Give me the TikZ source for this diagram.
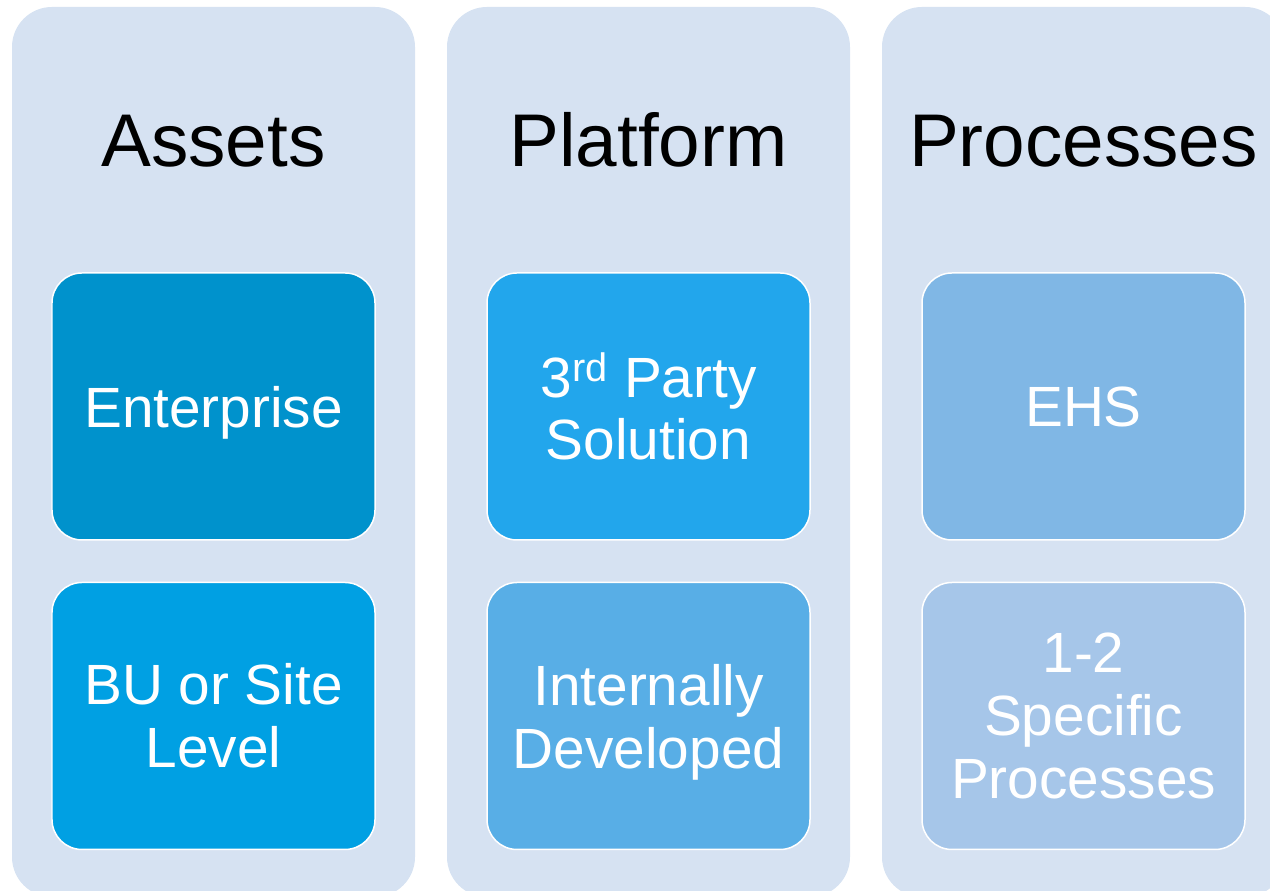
\documentclass[tikz,border=0pt]{standalone}
\usepackage{fontspec}
\setmainfont{Liberation Sans}
\usepackage{tkz-euclide}
\definecolor{colbg}{RGB}{214,226,242}
\definecolor{entc}{RGB}{0,146,204}
\definecolor{buc}{RGB}{0,160,227}
\definecolor{thirdc}{RGB}{34,166,236}
\definecolor{intc}{RGB}{88,174,230}
\definecolor{ehsc}{RGB}{128,183,229}
\definecolor{specc}{RGB}{166,198,233}

\begin{document}
\begin{tikzpicture}[
  column/.style={fill=colbg,rounded corners=0.8cm,minimum width=8.06cm,minimum height=17.8cm,inner sep=0pt},
  cell/.style={draw=white,line width=0.85pt,rounded corners=0.6cm,minimum width=6.46cm,minimum height=5.34cm,
    inner sep=0pt,align=center,text=white,font=\fontsize{32.3}{35.7}\selectfont},
  head/.style={anchor=base,font=\fontsize{42.5}{50}\selectfont},
  celltext/.style={text=white,align=center,font=\fontsize{32.3}{35.7}\selectfont}]
\useasboundingbox (0,0) rectangle (25.4,17.82);

\tkzDefPoints{4.27/8.78/cA,12.97/8.78/cP,21.67/8.78/cQ}
\tkzDefPoints{4.27/14.48/hA,12.97/14.48/hP,21.67/14.48/hQ}
\tkzDefPoints{4.27/9.69/A1,12.97/9.69/P1,21.67/9.69/Q1}
\tkzDefPoints{4.27/3.50/A2,12.97/3.50/P2,21.67/3.50/Q2}

% columns
\node[column] (assets) at (cA) {};
\node[column] (platform) at (cP) {};
\node[column] (processes) at (cQ) {};

\node[head] (tassets) at (hA) {Assets};
\node[head] (tplatform) at (hP) {Platform};
\node[head] (tprocesses) at (hQ) {Processes};

% boxes
\node[cell,fill=entc] (enterprise) at (A1) {};
\node[celltext,yshift=-0.13cm] (tenterprise) at (A1) {Enterprise};
\node[cell,fill=buc] (bu) at (A2) {BU or Site\\Level};
\node[cell,fill=thirdc] (third) at (P1) {3\textsuperscript{rd} Party\\Solution};
\node[cell,fill=intc] (internal) at (P2) {};
\node[celltext,yshift=-0.12cm] (tinternal) at (P2) {Internally\\Developed};
\node[cell,fill=ehsc] (ehs) at (Q1) {EHS};
\node[cell,fill=specc] (specific) at (Q2) {1-2\\Specific\\Processes};

\end{tikzpicture}
\end{document}
